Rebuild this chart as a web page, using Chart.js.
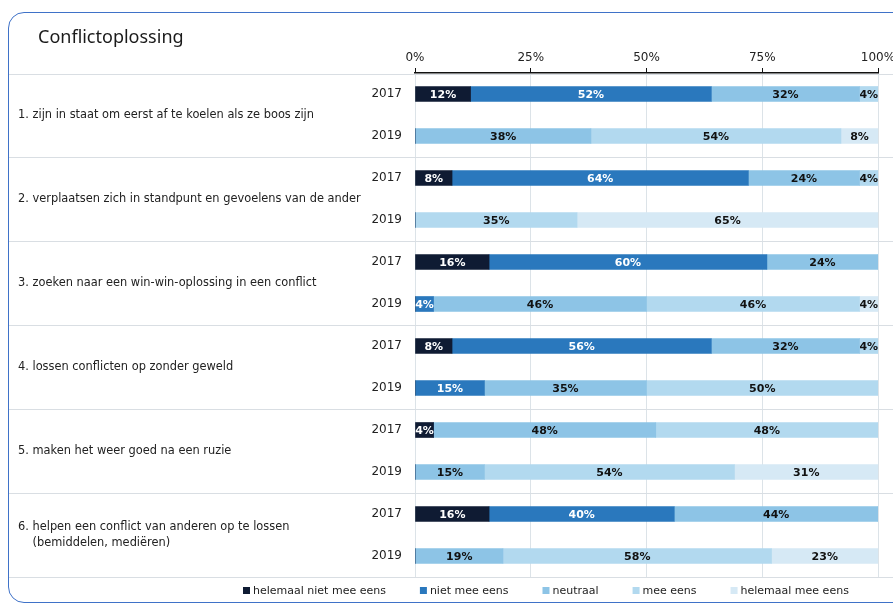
<!DOCTYPE html>
<html>
<head>
<meta charset="utf-8">
<script src="https://cdn.jsdelivr.net/npm/chart.js@4"></script>
<style>
    html, body { margin: 0; padding: 0; background: #fff; overflow: hidden; }
    #card { position: absolute; left: 8px; top: 12px; width: 1000px; height: 589px; border: 1.5px solid #3f72c8; border-radius: 16px; }
    #wrap { position: absolute; left: 0; top: 0; width: 893px; height: 605px; }
</style>
</head>
<body>
<div id="card"></div>
<div id="wrap"><canvas id="chart"></canvas></div>
<script>
const title = "Conflictoplossing";
const items = [
    ["1. zijn in staat om eerst af te koelen als ze boos zijn"],
    ["2. verplaatsen zich in standpunt en gevoelens van de ander"],
    ["3. zoeken naar een win-win-oplossing in een conflict"],
    ["4. lossen conflicten op zonder geweld"],
    ["5. maken het weer goed na een ruzie"],
    ["6. helpen een conflict van anderen op te lossen", "    (bemiddelen, mediëren)"]
];
const years = ["2017", "2019", "2017", "2019", "2017", "2019", "2017", "2019", "2017", "2019", "2017", "2019"];
const seriesNames = ["helemaal niet mee eens", "niet mee eens", "neutraal", "mee eens", "helemaal mee eens"];
const seriesColors = ["#0f1b33", "#2a78bd", "#8dc4e6", "#b2d9ef", "#d6e9f5"];
const labelColors = ["#ffffff", "#ffffff", "#111111", "#111111", "#111111"];

const helemaalNiet = [12, 0, 8, 0, 16, 0, 8, 0, 4, 0, 16, 0];
const nietMee = [52, 0, 64, 0, 60, 4, 56, 15, 0, 0, 40, 0];
const neutraal = [32, 38, 24, 0, 24, 46, 32, 35, 48, 15, 44, 19];
const meeEens = [4, 54, 4, 35, 0, 46, 4, 50, 48, 54, 0, 58];
const helemaalMee = [0, 8, 0, 65, 0, 4, 0, 0, 0, 31, 0, 23];
const seriesValues = [helemaalNiet, nietMee, neutraal, meeEens, helemaalMee];

const xTicks = [0, 25, 50, 75, 100];

const extras = {
    id: "extras",
    beforeDatasetsDraw(chart) {
        const { ctx, chartArea, scales: { y } } = chart;
        ctx.save();
        ctx.strokeStyle = "#d9dee3";
        ctx.lineWidth = 1;
        for (let g = 0; g <= items.length; g++) {
            let yy;
            if (g === 0) yy = chartArea.top + 1;
            else if (g === items.length) yy = chartArea.bottom;
            else yy = (y.getPixelForValue(g * 2 - 1) + y.getPixelForValue(g * 2)) / 2;
            ctx.beginPath();
            ctx.moveTo(9, Math.round(yy) + 0.5);
            ctx.lineTo(chart.width, Math.round(yy) + 0.5);
            ctx.stroke();
        }
        ctx.restore();
    },
    afterDatasetsDraw(chart) {
        const ctx = chart.ctx;
        ctx.save();
        ctx.font = 'bold 11px "DejaVu Sans"';
        ctx.textAlign = "center";
        ctx.textBaseline = "middle";
        chart.data.datasets.forEach((ds, i) => {
            chart.getDatasetMeta(i).data.forEach((bar, j) => {
                const v = ds.data[j];
                if (!v) return;
                const p = bar.getCenterPoint();
                ctx.fillStyle = labelColors[i];
                ctx.fillText(v + "%", p.x, p.y + 1);
            });
        });
        ctx.restore();
    },
    afterDraw(chart) {
        const { ctx, scales: { y } } = chart;
        ctx.save();
        // title
        ctx.fillStyle = "#1a1a1a";
        ctx.font = '18px "Noto Sans"';
        ctx.textBaseline = "alphabetic";
        ctx.fillText(title, 38, 43);
        // item labels
        ctx.font = '11.4px "DejaVu Sans"';
        ctx.fillStyle = "#222";
        ctx.textBaseline = "middle";
        items.forEach((lines, g) => {
            const mid = (y.getPixelForValue(g * 2) + y.getPixelForValue(g * 2 + 1)) / 2;
            const top = mid - (lines.length - 1) * 8;
            lines.forEach((t, k) => ctx.fillText(t, 18, top + k * 16));
        });
        // legend
        ctx.font = '11px "DejaVu Sans"';
        let lx = 243;
        const ly = 591;
        seriesNames.forEach((name, i) => {
            ctx.fillStyle = seriesColors[i];
            ctx.fillRect(lx, ly - 4, 7, 7);
            ctx.fillStyle = "#222";
            ctx.fillText(name, lx + 10, ly);
            lx += 10 + ctx.measureText(name).width + 34;
        });
        ctx.restore();
    }
};

new Chart(document.getElementById("chart"), {
    type: "bar",
    data: {
        labels: years,
        datasets: seriesValues.map((vals, i) => ({
            label: seriesNames[i],
            data: vals,
            backgroundColor: seriesColors[i],
            borderWidth: 0,
            barThickness: 15
        }))
    },
    options: {
        indexAxis: "y",
        responsive: true,
        maintainAspectRatio: false,
        animation: false,
        layout: { padding: { top: 0, left: 0, right: 15, bottom: 28 } },
        plugins: { legend: { display: false }, tooltip: { enabled: false } },
        scales: {
            x: {
                position: "top",
                stacked: true,
                min: 0,
                max: 100,
                afterFit: s => { s.height = 73; s.paddingRight = 0; s.paddingLeft = 0; },
                afterBuildTicks: s => { s.ticks = xTicks.map(v => ({ value: v })); },
                ticks: {
                    callback: v => v + "%",
                    color: "#222",
                    font: { family: "DejaVu Sans", size: 12 },
                    padding: 3,
                    maxRotation: 0
                },
                grid: { color: "#dce3e8", tickColor: "#111", tickLength: 5, lineWidth: 1 },
                border: { color: "#111", width: 1.5 }
            },
            y: {
                stacked: true,
                afterFit: s => { s.width = 415; },
                ticks: {
                    color: "#222",
                    font: { family: "DejaVu Sans", size: 12 },
                    padding: 13
                },
                grid: { display: false, drawTicks: false },
                border: { display: false }
            }
        }
    },
    plugins: [extras]
});
</script>
</body>
</html>
